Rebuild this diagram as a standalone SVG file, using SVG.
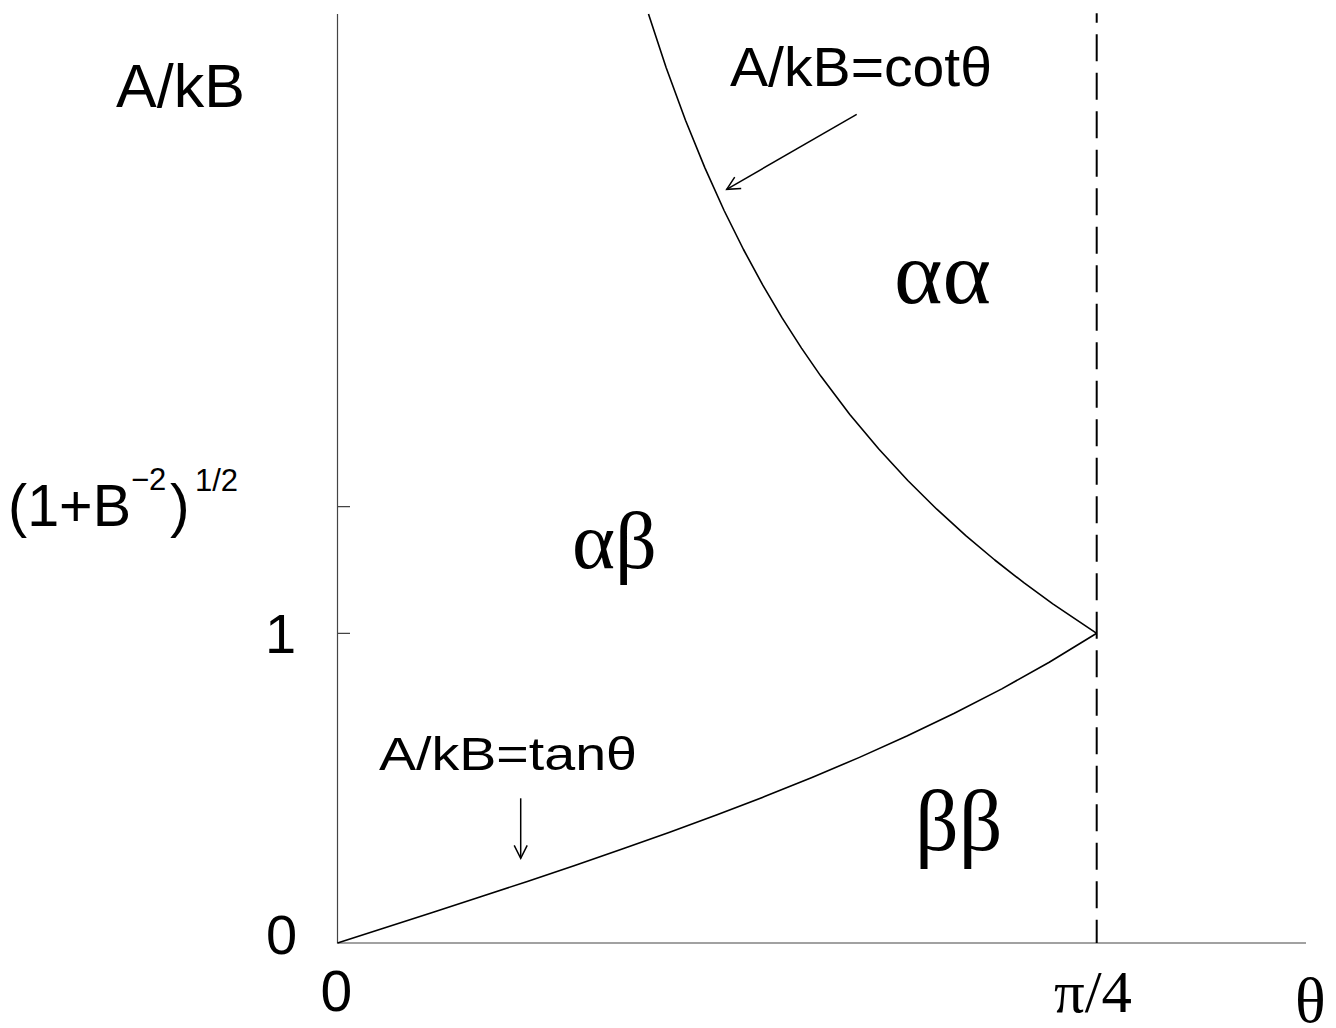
<svg xmlns="http://www.w3.org/2000/svg" width="1336" height="1028" viewBox="0 0 1336 1028">
<style>
.sans{font-family:"Liberation Sans",Arial,sans-serif;fill:#000}
.serif{font-family:"Liberation Serif","Times New Roman",serif;fill:#000}
.axis{stroke:#444;stroke-width:1.2;fill:none}
.curve{stroke:#000;stroke-width:1.6;fill:none;stroke-linejoin:round}
.dash{stroke:#000;stroke-width:2;fill:none;stroke-dasharray:27 11.5;stroke-dashoffset:17.6}
.ptr{stroke:#000;stroke-width:1.5;fill:none}
</style>
<defs>
<marker id="ah" markerUnits="userSpaceOnUse" viewBox="-16 -10 20 20" markerWidth="20" markerHeight="20" refX="0" refY="0" orient="auto" overflow="visible">
<path d="M-13,-6.5 L0,0 L-13,6.5" fill="none" stroke="#000" stroke-width="1.5"/>
</marker>
</defs>
<rect width="1336" height="1028" fill="#fff"/>
<g id="axes">
<path class="axis" d="M337.5,14 V943 H1306"/>
<path class="axis" d="M337.5,506.7 H350 M337.5,633.3 H350"/>
<path class="dash" d="M1096.7,13.3 V943"/>
</g>
<g id="curves">
<polyline id="tan-curve" class="curve" points="337.5,943 384.95,927.79 432.4,912.5 479.85,897.06 527.3,881.4 574.75,865.43 622.2,849.05 669.65,832.17 717.1,814.72 764.55,796.58 812,777.46 859.45,757.37 906.9,736.07 954.35,713.31 1001.8,688.84 1049.25,662.3 1096.7,633.3"/>
<polyline id="cot-curve" class="curve" points="648.5,13.9 666.1,67.5 685.5,120.2 704.8,167.6 724.1,210.5 743.5,249.5 762.8,285.2 782.1,317.9 801.5,348.1 820.8,376.1 849.8,414.4 878.8,449 907.8,480.5 936.8,509.2 965.8,535.6 994.8,560 1023.8,582.7 1052.8,603.8 1096.7,633.3"/>
</g>
<g id="connectors">
<line class="ptr" x1="856.7" y1="114.3" x2="726.7" y2="189.3" marker-end="url(#ah)"/>
<line class="ptr" x1="520.7" y1="798.3" x2="520.7" y2="858.3" marker-end="url(#ah)"/>
</g>
<g id="labels">
<text class="sans" x="116" y="107" font-size="61">A/kB</text>
<text class="sans" x="730" y="86" font-size="55" textLength="262" lengthAdjust="spacingAndGlyphs">A/kB=cotθ</text>
<text class="sans" x="379" y="770" font-size="47" textLength="258" lengthAdjust="spacingAndGlyphs">A/kB=tanθ</text>
<text class="sans" font-size="59" y="526"><tspan x="8" textLength="123" lengthAdjust="spacingAndGlyphs">(1+B</tspan><tspan x="131" y="490" font-size="31">−2</tspan><tspan x="170" y="526">)</tspan><tspan x="195" y="491" font-size="31">1/2</tspan></text>
<text class="sans" x="265" y="653" font-size="56">1</text>
<text class="sans" x="266" y="954" font-size="56">0</text>
<text class="sans" x="320.5" y="1011" font-size="57">0</text>
<text class="serif" x="1054" y="1011.7" font-size="60" textLength="78" lengthAdjust="spacingAndGlyphs">π/4</text>
<text class="serif" x="1295" y="1022" font-size="64">θ</text>
<text class="serif" x="894" y="303" font-size="88" textLength="97" lengthAdjust="spacingAndGlyphs">αα</text>
<text class="serif" x="572" y="568" font-size="80" textLength="85" lengthAdjust="spacingAndGlyphs">αβ</text>
<text class="serif" x="915" y="850" font-size="86">ββ</text>
</g>
</svg>
